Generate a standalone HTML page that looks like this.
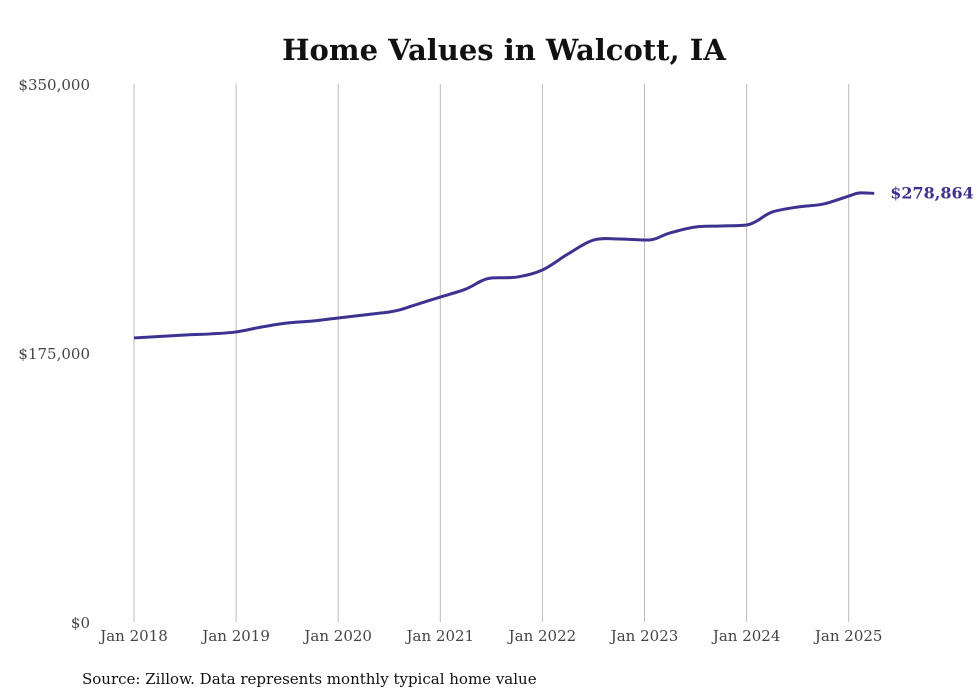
<!DOCTYPE html>
<html><head><meta charset="utf-8"><style>
html,body{margin:0;padding:0;background:#fff;}
svg{display:block;font-family:"DejaVu Serif","Liberation Serif",serif;}
</style></head><body>
<svg width="980" height="699" viewBox="0 0 980 699">
<text x="504" y="60" text-anchor="middle" font-size="29" font-weight="bold" fill="#111">Home Values in Walcott, IA</text>
<g id="grid"></g>
<g id="yaxis"></g>
<g id="xaxis"></g>
<path id="line" fill="none" stroke="#3d3290" stroke-width="3"/>
<text id="endlabel" font-size="16" font-weight="bold" fill="#3d3290"></text>
<text x="82" y="684" font-size="15" fill="#111">Source: Zillow. Data represents monthly typical home value</text>
</svg>
<script>
const dates=[2018.0,2018.5,2018.75,2019.0,2019.25,2019.5,2019.75,2020.0,2020.25,2020.5,2020.6,2020.75,2021.0,2021.25,2021.4,2021.5,2021.75,2022.0,2022.25,2022.5,2022.75,2023.0,2023.1,2023.25,2023.5,2023.75,2024.0,2024.1,2024.25,2024.5,2024.75,2025.0,2025.1,2025.25];
const values=[184800,186700,187400,188700,191900,194500,195800,197800,199700,201700,203000,206200,211400,216600,221800,223800,224400,229000,239400,248500,249200,248500,249200,253100,257000,257600,258300,260900,266700,270000,271900,277100,279100,278864];
const yTicks=[0,175000,350000];
const yTickLabels=["$0","$175,000","$350,000"];
const xTicks=[2018,2019,2020,2021,2022,2023,2024,2025];
const xTickLabels=["Jan 2018","Jan 2019","Jan 2020","Jan 2021","Jan 2022","Jan 2023","Jan 2024","Jan 2025"];
const NS="http://www.w3.org/2000/svg";
const x=d=>134+(d-2018)*102.1;
const y=v=>622-v/350000*538;
function mk(t,a,p,txt){const e=document.createElementNS(NS,t);for(const k in a)e.setAttribute(k,a[k]);if(txt!=null)e.textContent=txt;p.appendChild(e);return e;}
const grid=document.getElementById('grid'),ya=document.getElementById('yaxis'),xa=document.getElementById('xaxis');
xTicks.forEach((t,i)=>{
  const l=mk('line',{x1:x(t),x2:x(t),y1:84,y2:622,stroke:'#bbb','stroke-width':1},grid);
  
  
  const tx=mk('text',{x:x(t),y:641,'text-anchor':'middle','font-size':15,fill:'#444'},xa,xTickLabels[i]);
  
  
});
yTicks.forEach((t,i)=>{
  const tx=mk('text',{x:90,y:y(t)+6,'text-anchor':'end','font-size':15,fill:'#444'},ya,yTickLabels[i]);
  
  
});
const pts=dates.map((d,i)=>[x(d),y(values[i])]);
let p='M'+pts[0][0]+','+pts[0][1];
for(let i=0;i<pts.length-1;i++){
  const p0=pts[Math.max(0,i-1)],p1=pts[i],p2=pts[i+1],p3=pts[Math.min(pts.length-1,i+2)];
  const k=1/6;
  p+=' C'+(p1[0]+(p2[0]-p0[0])*k)+','+(p1[1]+(p2[1]-p0[1])*k)+' '+(p2[0]-(p3[0]-p1[0])*k)+','+(p2[1]-(p3[1]-p1[1])*k)+' '+p2[0]+','+p2[1];
}
document.getElementById('line').setAttribute('d',p);
const last=values[values.length-1];
const el=document.getElementById('endlabel');
el.setAttribute('x',x(dates[dates.length-1])+16);
el.setAttribute('y',y(last)+5);
el.textContent='$'+last.toLocaleString('en-US');
</script>
</body></html>
